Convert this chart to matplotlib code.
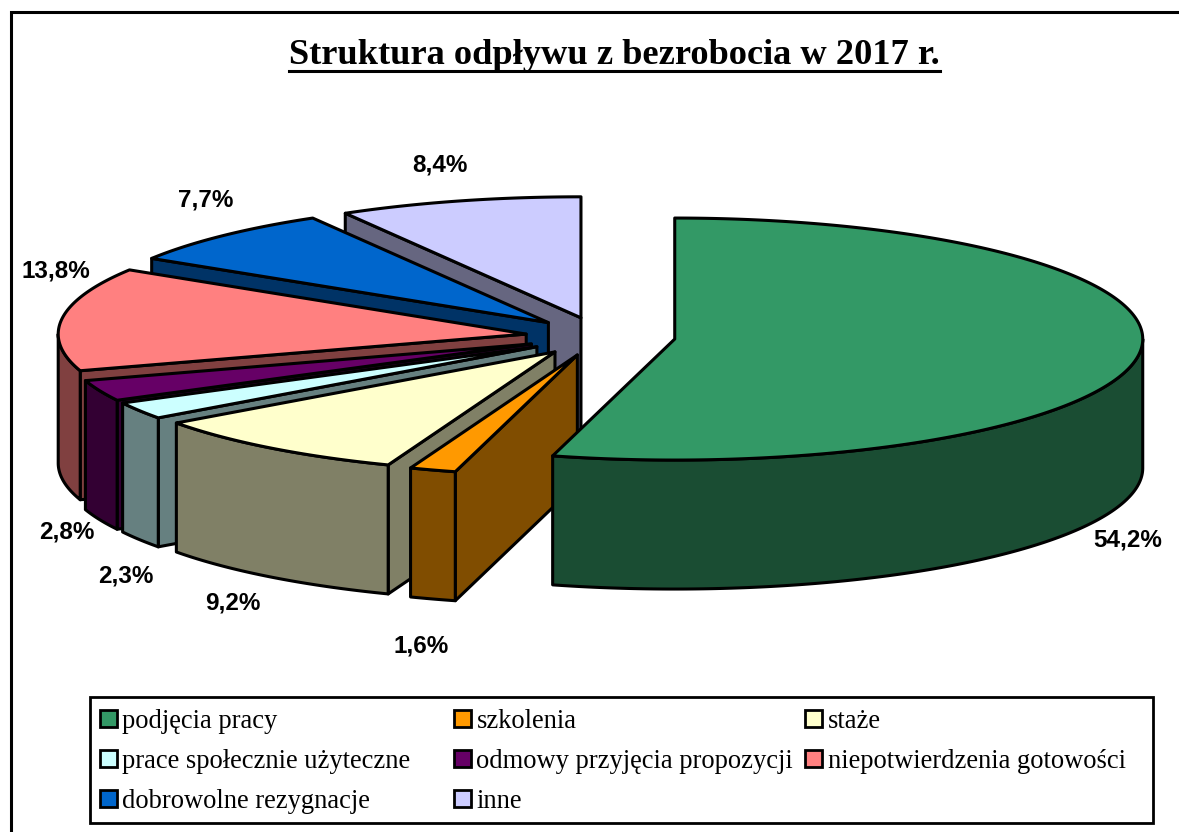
import numpy as np
import matplotlib
matplotlib.use("Agg")
import matplotlib.pyplot as plt
from matplotlib.patches import Polygon, Rectangle
from matplotlib.colors import to_rgb

title = "Struktura odpływu z bezrobocia w 2017 r."
categories = ["podjęcia pracy", "szkolenia", "staże",
              "prace społecznie użyteczne", "odmowy przyjęcia propozycji", "niepotwierdzenia gotowości",
              "dobrowolne rezygnacje", "inne"]
values = [54.2, 1.6, 9.2, 2.3, 2.8, 13.8, 7.7, 8.4]
colors = ["#339966", "#FF9900", "#FFFFCC", "#CCFFFF", "#660066", "#FF8080", "#0066CC", "#CCCCFF"]
label_pos = [(1128, 540), (421, 646), (233, 603), (126, 576), (67, 532), (56, 271), (206, 200), (440, 165)]

# pie geometry in pixels
CX, CY = 600.5, 336.5
RX, RY = 468, 121
DEPTH = 129
EXPLODE = 0.16
LW = 2.2


def shade(c, f=0.5):
    return tuple(v * f for v in to_rgb(c))


def pt(a, cx, cy, r=1.0):
    # a is degrees clockwise from 12 o'clock
    t = np.radians(a)
    return cx + r * RX * np.sin(t), cy - r * RY * np.cos(t)


def arc(a0, a1, cx, cy):
    n = max(2, int(abs(a1 - a0)) * 2)
    aa = np.linspace(a0, a1, n)
    return [pt(a, cx, cy) for a in aa]


def down(points):
    return [(x, y + DEPTH) for x, y in points]


def draw_slice(ax, a0, a1, color):
    mid = (a0 + a1) / 2
    cx, cy = pt(mid, CX, CY, EXPLODE)
    side = shade(color)
    apex = (cx, cy)
    # cut faces, only those turned to the viewer
    if 180 < a0 < 360:
        edge = [apex, pt(a0, cx, cy)]
        ax.add_patch(Polygon(edge + down(edge)[::-1], fc=side, ec="k", lw=LW, joinstyle="round"))
    if 0 < a1 < 180:
        edge = [apex, pt(a1, cx, cy)]
        ax.add_patch(Polygon(edge + down(edge)[::-1], fc=side, ec="k", lw=LW, joinstyle="round"))
    # outer wall, front half of the ellipse only
    w0, w1 = max(a0, 90), min(a1, 270)
    if w1 > w0:
        top = arc(w0, w1, cx, cy)
        ax.add_patch(Polygon(top + down(top)[::-1], fc=side, ec="k", lw=LW, joinstyle="round"))
    ax.add_patch(Polygon([apex] + arc(a0, a1, cx, cy), fc=color, ec="k", lw=LW, joinstyle="round"))


fig = plt.figure(figsize=(11.79, 8.32), dpi=100)
ax = fig.add_axes([0, 0, 1, 1])
ax.set_xlim(0, 1179)
ax.set_ylim(832, 0)
ax.axis("off")

# outer frame, cut by the image on the right and at the bottom
ax.plot([10.5, 10.5, 1179], [832, 11.5, 11.5], color="k", lw=2.2, solid_joinstyle="miter")

ends = np.cumsum(values) / np.sum(values) * 360
starts = np.concatenate([[0], ends[:-1]])

# back slices first, the green one last
for i in [7, 6, 5, 4, 3, 2, 1, 0]:
    draw_slice(ax, starts[i], ends[i], colors[i])

for v, (x, y) in zip(values, label_pos):
    ax.text(x, y, f"{v:.1f}%".replace(".", ","), family="Liberation Sans", weight="bold",
            fontsize=17.5, ha="center", va="center")

ax.text(614.5, 55, title, family="Liberation Serif", weight="bold", fontsize=26.2,
        ha="center", va="center")
ax.plot([289, 940], [71, 71], color="k", lw=2.2)

# legend
ax.add_patch(Rectangle((90, 697), 1063, 126, fc="w", ec="k", lw=2.0))
col_x = [99.5, 453.5, 805]
row_y = [719, 759, 799]
for i, name in enumerate(categories):
    x = col_x[i % 3]
    y = row_y[i // 3]
    ax.add_patch(Rectangle((x, y - 9), 17, 17, fc=colors[i], ec="k", lw=2.0))
    ax.text(x + 23, y + 2, name, family="Liberation Serif", fontsize=19.1, ha="left", va="center")

fig.savefig("out.png", dpi=100)
